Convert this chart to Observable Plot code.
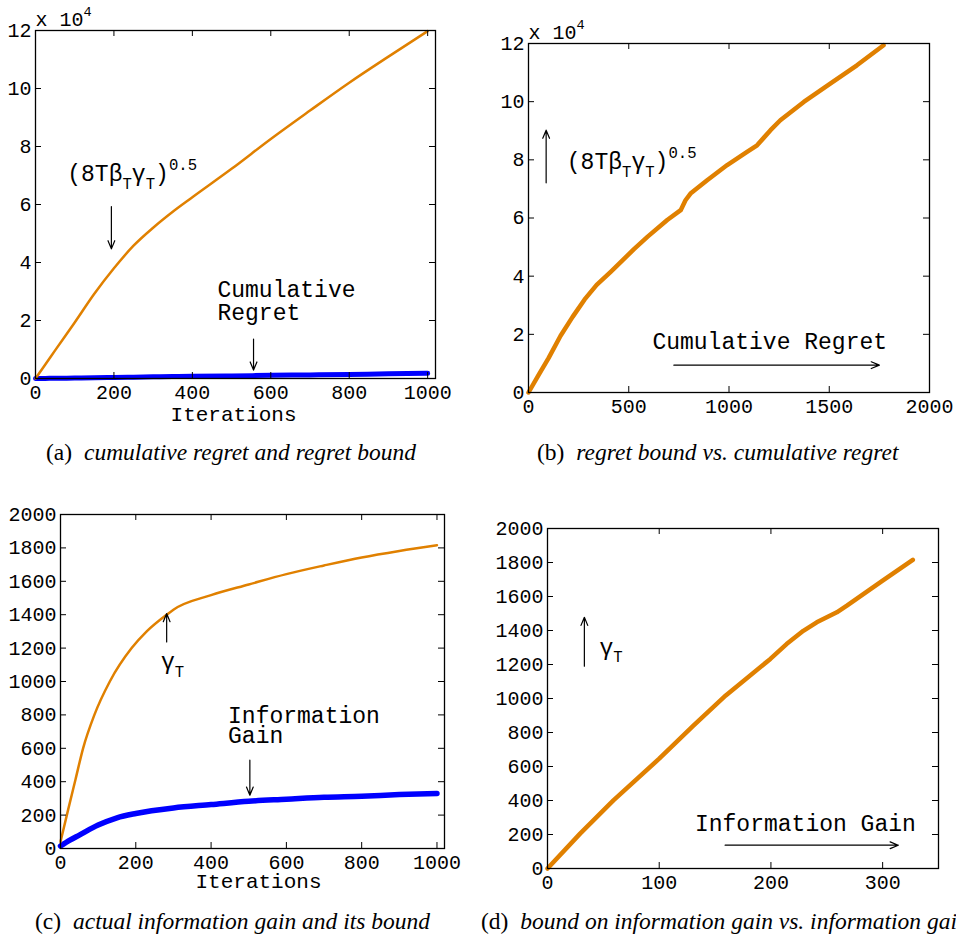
<!DOCTYPE html>
<html>
<head>
<meta charset="utf-8">
<script src="https://cdn.jsdelivr.net/npm/d3@7"></script>
<script src="https://cdn.jsdelivr.net/npm/@observablehq/plot@0.6"></script>
<style>
  html, body { margin: 0; padding: 0; background: #fff; }
  #root { position: relative; width: 956px; height: 941px; overflow: hidden; background: #fff; }
  #root svg { position: absolute; overflow: visible; }
  .cap { position: absolute; white-space: nowrap; font-family: "Liberation Serif", "Times New Roman", serif; font-size: 23.5px; line-height: 23.5px; color: #000; }
  .cap i { margin-left: 6px; }
</style>
</head>
<body>
<div id="root">
  <div class="cap" style="left:46px; top:441px">(a) <i>cumulative regret and regret bound</i></div>
  <div class="cap" style="left:537px; top:441px">(b) <i>regret bound vs. cumulative regret</i></div>
  <div class="cap" style="left:35px; top:910px">(c) <i>actual information gain and its bound</i></div>
  <div class="cap" style="left:481px; top:910px">(d) <i>bound on information gain vs. information gain</i></div>
</div>
<script>
// ---------- data ----------
const orange = "#e08000";
const blue = "#0000ff";

// (a) iterations, regret bound, cumulative regret
const tA      = [0, 25, 50, 100, 150, 200, 250, 300, 350, 400, 500, 600, 700, 800, 900, 1000];
const boundA  = [0, 4800, 9700, 19300, 29200, 38000, 45800, 52000, 57500, 62500, 72300, 82600, 92400, 102000, 111000, 119800];
const regretA = [0, 40, 80, 160, 240, 370, 470, 567, 665, 759, 880, 1088, 1238, 1417, 1606, 1775];
const xTicksA = [0, 200, 400, 600, 800, 1000];
const yTicksA = [0, 20000, 40000, 60000, 80000, 100000, 120000];

// (b) regret bound vs cumulative regret
const regretB = [0, 50, 100, 160, 220, 280, 340, 410, 470, 526, 593, 692, 759, 783, 808, 891, 991, 1090, 1140, 1207, 1256, 1373, 1505, 1638, 1771];
const boundB  = [0, 6000, 11800, 19500, 26000, 32000, 37000, 41500, 45500, 49300, 53500, 59300, 62700, 66100, 68400, 73000, 78200, 82700, 85000, 90200, 93600, 99900, 106200, 112500, 119400];
const xTicksB = [0, 500, 1000, 1500, 2000];
const yTicksB = [0, 20000, 40000, 60000, 80000, 100000, 120000];

// (c) information gain bound (gamma_T) and actual information gain
const tC1     = [0, 20, 40, 60, 90, 131, 189, 229, 282, 300, 400, 500, 600, 700, 800, 900, 1000];
const gammaC  = [40, 230, 415, 600, 800, 1000, 1200, 1300, 1400, 1430, 1517, 1581, 1643, 1695, 1743, 1782, 1816];
const tC2     = [0, 25, 50, 100, 150, 200, 300, 400, 500, 600, 700, 800, 900, 1000];
const infoC   = [15, 50, 80, 140, 184, 210, 243, 263, 283, 295, 307, 313, 323, 329];
const xTicksC = [0, 200, 400, 600, 800, 1000];
const yTicksC = [0, 200, 400, 600, 800, 1000, 1200, 1400, 1600, 1800, 2000];

// (d) bound on information gain vs information gain
const infoD   = [0, 29.2, 59, 100, 130.6, 159.6, 199.5, 214, 229, 241, 259, 268, 300, 327];
const gammaD  = [0, 205, 401, 646, 841, 1018, 1233, 1320, 1398, 1448, 1507, 1546, 1693, 1816];
const xTicksD = [0, 100, 200, 300];
const yTicksD = [0, 200, 400, 600, 800, 1000, 1200, 1400, 1600, 1800, 2000];

// annotations (data coordinates)
const labelsA = [{x: 81, y: 70500, text: "(8Tβ_Tγ_T)^{0.5}"}, {x: 464, y: 30600, text: "Cumulative"}, {x: 464, y: 22800, text: "Regret"}];
const arrowsA = [{x1: 193.5, y1: 59300, x2: 193.5, y2: 44700}, {x1: 556, y1: 13600, x2: 556, y2: 2900}];
const labelsB = [{x: 191, y: 79300, text: "(8Tβ_Tγ_T)^{0.5}"}, {x: 618, y: 17400, text: "Cumulative Regret"}];
const arrowsB = [{x1: 88, y1: 72100, x2: 88, y2: 90200}, {x1: 725, y1: 9400, x2: 1750, y2: 9400}];
const labelsC = [{x: 267, y: 1117, text: "γ_T"}, {x: 445, y: 798, text: "Information"}, {x: 445, y: 678, text: "Gain"}];
const arrowsC = [{x1: 282, y1: 1237, x2: 282, y2: 1407}, {x1: 503, y1: 529, x2: 503, y2: 319}];
const labelsD = [{x: 46.6, y: 1302, text: "γ_T"}, {x: 132, y: 264, text: "Information Gain"}];
const arrowsD = [{x1: 33, y1: 1190, x2: 33, y2: 1478}, {x1: 159, y1: 137, x2: 314, y2: 137}];

// ---------- drawing ----------
const W = 478, H = 430;
const root = document.getElementById("root");

function richify(svg) {
  const ns = "http://www.w3.org/2000/svg";
  for (const t of Array.from(svg.querySelectorAll("text"))) {
    const s = t.textContent;
    if (!/[_^]/.test(s)) continue;
    const fs = parseFloat(getComputedStyle(t).fontSize);
    const oldFirst = t.querySelector("tspan");
    const baseDy = oldFirst ? oldFirst.getAttribute("dy") : null;
    const parts = [];
    let i = 0;
    while (i < s.length) {
      if (s[i] === "_") { parts.push({txt: s[i + 1], kind: "sub"}); i += 2; }
      else if (s[i] === "^") { const j = s.indexOf("}", i); parts.push({txt: s.slice(i + 2, j), kind: "sup"}); i = j + 1; }
      else { let j = i; while (j < s.length && s[j] !== "_" && s[j] !== "^") j++; parts.push({txt: s.slice(i, j), kind: "n"}); i = j; }
    }
    while (t.firstChild) t.removeChild(t.firstChild);
    let cur = 0, first = true;
    for (const p of parts) {
      const target = p.kind === "sub" ? 0.32 * fs : p.kind === "sup" ? -0.5 * fs : 0;
      const ts = document.createElementNS(ns, "tspan");
      if (first && baseDy) ts.setAttribute("dy", baseDy);
      else if (target - cur !== 0) ts.setAttribute("dy", (target - cur) + "px");
      if (p.kind !== "n") ts.setAttribute("font-size", (fs * 0.68) + "px");
      ts.textContent = p.txt;
      t.appendChild(ts);
      cur = target; first = false;
    }
  }
}

function panel({left, top, mL, mR, mT, mB, xDomain, yDomain, xTicks, yTicks, yFmt, sci, marks}) {
  const innerW = W - mL - mR, innerH = H - mT - mB;
  const tl = 6;
  const svg = Plot.plot({
    width: W, height: H,
    marginLeft: mL, marginRight: mR, marginTop: mT, marginBottom: mB,
    x: {domain: xDomain},
    y: {domain: yDomain},
    style: {fontFamily: "Liberation Mono, Courier New, monospace", fontSize: "20px", color: "#000", background: "transparent", overflow: "visible"},
    marks: [
      ...marks,
      Plot.axisX(xTicks, {anchor: "bottom", tickSize: 0, tickPadding: 6, tickFormat: d => String(d), label: null}),
      Plot.axisY(yTicks, {anchor: "left", tickSize: 0, tickPadding: 4, tickFormat: yFmt || (d => String(d)), label: null}),
      Plot.tickX(xTicks, {x: d => d, insetTop: innerH - tl, stroke: "#000", strokeWidth: 1}),
      Plot.tickX(xTicks, {x: d => d, insetBottom: innerH - tl, stroke: "#000", strokeWidth: 1}),
      Plot.tickY(yTicks, {y: d => d, insetRight: innerW - tl, stroke: "#000", strokeWidth: 1}),
      Plot.tickY(yTicks, {y: d => d, insetLeft: innerW - tl, stroke: "#000", strokeWidth: 1}),
      Plot.frame({stroke: "#000", strokeWidth: 1.3}),
      ...(sci ? [Plot.text([sci], {frameAnchor: "top-left", textAnchor: "start", lineAnchor: "bottom", dy: -5, fontSize: 20})] : [])
    ]
  });
  svg.style.left = left + "px";
  svg.style.top = top + "px";
  root.appendChild(svg);
  richify(svg);
}

const arrowStyle = {stroke: "#000", strokeWidth: 1.2, headLength: 11, headAngle: 45};
const textStyle = {x: "x", y: "y", text: "text", textAnchor: "start", lineAnchor: "middle", fontSize: 23, fill: "#000"};

// (a)
const rowsA = tA.map((t, i) => ({t, bound: boundA[i], regret: regretA[i]}));
panel({
  left: 0, top: 0, mL: 35, mR: 43, mT: 30, mB: 52,
  xDomain: [0, 1020], yDomain: [0, 120000], xTicks: xTicksA, yTicks: yTicksA, yFmt: d => String(d / 10000),
  sci: "x 10^{4}",
  marks: [
    Plot.line(rowsA, {x: "t", y: "regret", stroke: blue, strokeWidth: 5, curve: "monotone-x"}),
    Plot.line(rowsA, {x: "t", y: "bound", stroke: orange, strokeWidth: 2.5, curve: "monotone-x"}),
    Plot.arrow(arrowsA, {x1: "x1", y1: "y1", x2: "x2", y2: "y2", ...arrowStyle}),
    Plot.text(labelsA, textStyle),
    Plot.text(["Iterations"], {x: [505], frameAnchor: "bottom", dy: 36, lineAnchor: "middle", fontSize: 21})
  ]
});

// (b)
const rowsB = regretB.map((r, i) => ({regret: r, bound: boundB[i]}));
panel({
  left: 478, top: 0, mL: 50, mR: 27, mT: 43, mB: 38,
  xDomain: [0, 2000], yDomain: [0, 120000], xTicks: xTicksB, yTicks: yTicksB, yFmt: d => String(d / 10000),
  sci: "x 10^{4}",
  marks: [
    Plot.line(rowsB, {x: "regret", y: "bound", stroke: orange, strokeWidth: 4.5}),
    Plot.arrow(arrowsB, {x1: "x1", y1: "y1", x2: "x2", y2: "y2", ...arrowStyle}),
    Plot.text(labelsB, textStyle)
  ]
});

// (c)
const rowsC1 = tC1.map((t, i) => ({t, gamma: gammaC[i]}));
const rowsC2 = tC2.map((t, i) => ({t, info: infoC[i]}));
panel({
  left: 0, top: 478, mL: 60, mR: 34, mT: 36, mB: 60,
  xDomain: [0, 1020], yDomain: [0, 2000], xTicks: xTicksC, yTicks: yTicksC,
  marks: [
    Plot.line(rowsC2, {x: "t", y: "info", stroke: blue, strokeWidth: 5.5, curve: "monotone-x"}),
    Plot.line(rowsC1, {x: "t", y: "gamma", stroke: orange, strokeWidth: 2.5, curve: "monotone-x"}),
    Plot.arrow(arrowsC, {x1: "x1", y1: "y1", x2: "x2", y2: "y2", ...arrowStyle}),
    Plot.text(labelsC, textStyle),
    Plot.text(["Iterations"], {x: [526], frameAnchor: "bottom", dy: 33, lineAnchor: "middle", fontSize: 21})
  ]
});

// (d)
const rowsD = infoD.map((v, i) => ({info: v, gamma: gammaD[i]}));
panel({
  left: 478, top: 478, mL: 69, mR: 18, mT: 50, mB: 40,
  xDomain: [0, 350], yDomain: [0, 2000], xTicks: xTicksD, yTicks: yTicksD,
  marks: [
    Plot.line(rowsD, {x: "info", y: "gamma", stroke: orange, strokeWidth: 4.5}),
    Plot.arrow(arrowsD, {x1: "x1", y1: "y1", x2: "x2", y2: "y2", ...arrowStyle}),
    Plot.text(labelsD, textStyle)
  ]
});
</script>
</body>
</html>
